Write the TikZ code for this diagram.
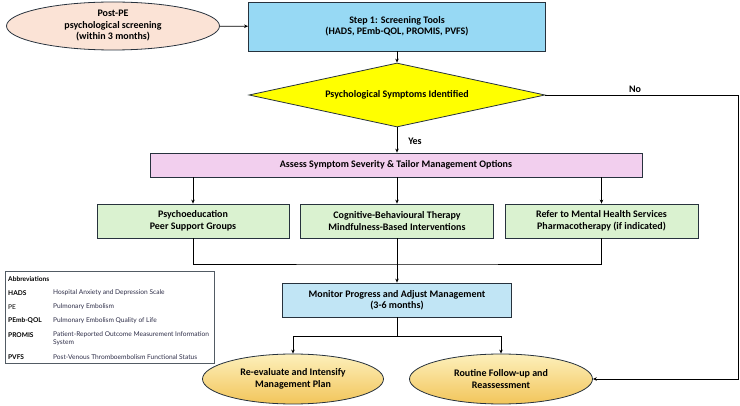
\documentclass[tikz,border=0pt]{standalone}
\usepackage{fontspec}
\setmainfont{Carlito}
\newfontfamily\abbrfont{Lato}
\usetikzlibrary{shapes.geometric,arrows.meta}
\definecolor{screenpeach}{HTML}{FBE3D6}
\definecolor{toolblue}{HTML}{97D9F4}
\definecolor{decideyellow}{HTML}{FFFF00}
\definecolor{assesspink}{HTML}{F2CFEE}
\definecolor{optiongreen}{HTML}{DAF2D0}
\definecolor{monitorblue}{HTML}{C1E5F5}
\definecolor{plantop}{HTML}{FDF0BC}
\definecolor{planbottom}{HTML}{F2C55A}
\definecolor{edgeline}{HTML}{27323D}
\definecolor{abbrtext}{HTML}{2E2E48}
\begin{document}
\begin{tikzpicture}[x=1pt,y=-1pt,
	>={Stealth[length=4pt,width=3.5pt]},
	every node/.style={font=\bfseries\fontsize{10}{11.5}\selectfont, align=center, text=black},
	box/.style={draw=edgeline, line width=0.8pt, rectangle, inner sep=0pt},
	oval/.style={draw=edgeline, line width=0.8pt, ellipse, inner sep=0pt},
	link/.style={line width=0.8pt, black},
	abbr/.style={font=\abbrfont\fontsize{6.6}{8}\selectfont, align=left, anchor=west, inner sep=0pt},
	abbrkey/.style={abbr, font=\abbrfont\bfseries\fontsize{6.6}{8}\selectfont}]
	\useasboundingbox (0,0) rectangle (740,406);
	% screening
	\node[oval, fill=screenpeach, minimum width=213pt, minimum height=48pt] (post) at (113,26) {Post-PE\\psychological screening\\(within 3 months)};
	\node[box, fill=toolblue, minimum width=297pt, minimum height=49pt] (step) at (397,26.5) {Step 1: Screening Tools\\(HADS, PEmb-QOL, PROMIS, PVFS)};
	\node[diamond, draw=edgeline, line width=0.8pt, fill=decideyellow, inner sep=0pt, aspect=4.6, minimum width=296pt, minimum height=64pt] (ident) at (397,95) {Psychological Symptoms Identified};
	% management
	\node[box, fill=assesspink, minimum width=492pt, minimum height=24pt] (assess) at (396,165) {Assess Symptom Severity \& Tailor Management Options};
	\node[box, fill=optiongreen, minimum width=192pt, minimum height=34pt] (psy) at (193,221) {Psychoeducation\\Peer Support Groups};
	\node[box, fill=optiongreen, minimum width=193pt, minimum height=34pt] (cbt) at (397,221) {Cognitive-Behavioural Therapy\\Mindfulness-Based Interventions};
	\node[box, fill=optiongreen, minimum width=193pt, minimum height=34pt] (ref) at (601.5,221) {Refer to Mental Health Services\\Pharmacotherapy (if indicated)};
	\node[box, fill=monitorblue, minimum width=229pt, minimum height=34pt] (mon) at (397,300) {Monitor Progress and Adjust Management\\(3-6 months)};
	\node[oval, top color=plantop, bottom color=planbottom, minimum width=181pt, minimum height=50pt] (reeval) at (293,379) {Re-evaluate and Intensify\\Management Plan};
	\node[oval, top color=plantop, bottom color=planbottom, minimum width=183pt, minimum height=50pt] (routine) at (501,379) {Routine Follow-up and\\Reassessment};
	% labels
	\node (no) at (635,89) {No};
	\node (yes) at (415,141) {Yes};
	% connectors
	\coordinate (noturn) at (738,95);
	\coordinate (join) at (397,264);
	\coordinate (split) at (397,336);
	\draw[link,->] (post) -- (step);
	\draw[link,->] (step) -- (ident);
	\draw[link,->] (ident) -- (assess.north -| ident);
	\draw[link,->] (ident.east) -- (noturn) |- (routine.east);
	\draw[link,->] (assess.south -| psy) -- (psy);
	\draw[link,->] (assess.south -| cbt) -- (cbt);
	\draw[link,->] (assess.south -| ref) -- (ref);
	\draw[link] (psy.south) |- (join) -| (ref.south);
	\draw[link,->] (cbt.south) -- (mon.north);
	\draw[link] (mon.south) -- (split);
	\draw[link,->] (split) -| (reeval.north);
	\draw[link,->] (split) -| (routine.north);
	% abbreviations
	\draw[draw=edgeline!80, line width=0.8pt] (5,271) rectangle (214,363);
	\node[abbrkey] (abbrhead) at (8,279) {Abbreviations};
	\node[abbrkey] (hadskey) at (8,293) {HADS};
	\node[abbr, text=abbrtext] (hadsdef) at (53,293) {Hospital Anxiety and Depression Scale};
	\node[abbr] (pekey) at (8,307) {PE};
	\node[abbr, text=abbrtext] (pedef) at (53,307) {Pulmonary Embolism};
	\node[abbrkey] (qolkey) at (8,321) {PEmb-QOL};
	\node[abbr, text=abbrtext] (qoldef) at (53,321) {Pulmonary Embolism Quality of Life};
	\node[abbrkey] (promiskey) at (8,335) {PROMIS};
	\node[abbr, text=abbrtext] (promisdef) at (53,339) {Patient-Reported Outcome Measurement Information\\System};
	\node[abbrkey] (pvfskey) at (8,357) {PVFS};
	\node[abbr, text=abbrtext] (pvfsdef) at (53,357) {Post-Venous Thromboembolism Functional Status};
\end{tikzpicture}
\end{document}
